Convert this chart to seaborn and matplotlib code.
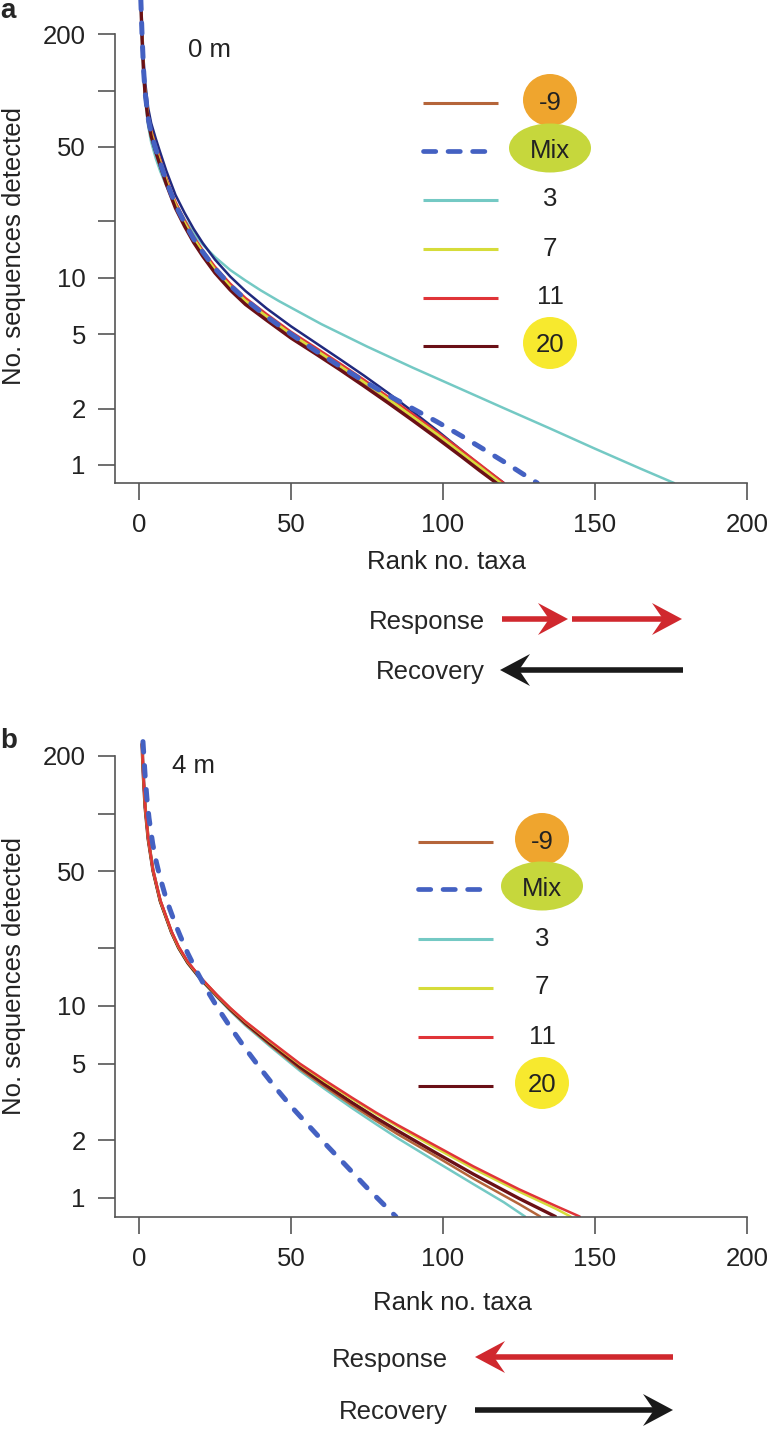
"""
Rank-abundance curves, 0 m and 4 m, recreated with seaborn.
"""

import numpy as np
import pandas as pd
import matplotlib
matplotlib.use('Agg')
import matplotlib.pyplot as plt
import seaborn as sns
from matplotlib.lines import Line2D
from matplotlib.patches import Ellipse, Polygon

sns.set_style('ticks')
plt.rcParams['font.family'] = ['Liberation Sans', 'DejaVu Sans']

W, H = 773, 1429

# ---------------- panel a (0 m) ----------------
a_grid = [0.5, 1, 1.5, 2, 3, 4, 5.5, 7, 9, 12, 15, 18, 21, 25, 30, 35, 42, 50,
          58, 66, 74, 82, 90, 98, 106, 112]
a_20 = [330, 190, 125, 95, 69, 57, 47, 39.5, 31.5, 23.5, 18.8, 15.4, 13.0, 10.6, 8.6, 7.2,
        5.92, 4.76, 3.93, 3.23, 2.635, 2.14, 1.728, 1.388, 1.109, 0.933, 0.79]
a_20_rank = a_grid + [118]
a_m9 = [337, 194, 128, 97, 70, 58, 48, 40.3, 32.1, 24, 19.2, 15.7, 13.3, 10.8, 8.8, 7.35,
        6.04, 4.86, 4.01, 3.29, 2.69, 2.18, 1.76, 1.42, 1.13, 0.952, 0.80]
a_m9_rank = a_grid + [118.5]
a_7 = [346, 200, 131, 100, 72, 60, 49.4, 41.5, 33.1, 24.7, 19.7, 16.2, 13.65, 11.1, 9.0, 7.55,
       6.22, 5.0, 4.13, 3.39, 2.77, 2.25, 1.81, 1.46, 1.16, 0.98, 0.80]
a_7_rank = a_grid + [119]
a_11 = [356, 205, 135, 103, 74.5, 61.5, 50.8, 42.7, 34, 25.4, 20.3, 16.6, 14.0, 11.45, 9.3, 7.8,
        6.39, 5.14, 4.24, 3.49, 2.85, 2.31, 1.87, 1.50, 1.20, 1.01, 0.80]
a_11_rank = a_grid + [120]
a_navy = [390, 224, 147, 112, 81, 67, 55.5, 46.6, 37.2, 27.7, 22.2, 18.2, 15.3, 12.5, 10.15, 8.5,
          6.85, 5.5, 4.5, 3.68, 3.0, 2.42, 1.93, 1.53, 1.20, 1.0, 0.80]
a_navy_rank = a_grid + [120]
a_mix = [340, 197, 129, 98, 71.5, 59, 48.8, 41, 32.8, 24.5, 19.6, 16.1, 13.7, 11.2, 9.1, 7.65,
         6.2, 5.0, 4.08, 3.37, 2.8, 2.35, 2.0, 1.70, 1.43, 1.25, 1.04, 0.90, 0.80]
a_mix_rank = a_grid + [120, 126, 131]
a_3 = [310, 178, 118, 89, 65, 53, 43.5, 37, 31, 25, 20.5, 17.3, 15.0, 12.9, 11.0, 9.67,
       8.57, 7.51, 5.65, 4.29, 3.31, 2.58, 2.01, 1.57, 1.22, 0.954, 0.80]
a_3_rank = [0.5, 1, 1.5, 2, 3, 4, 5.5, 7, 9, 12, 15, 18, 21, 25, 30, 35,
            40, 46, 60, 75, 90, 105, 120, 135, 150, 165, 176]

# ---------------- panel b (4 m) ----------------
b_grid = [1, 1.4, 2, 3, 4.6, 7, 10.7, 13, 16, 20, 25.6, 30, 35, 43, 53, 61, 70, 78, 85, 97, 110]
b_20 = [230, 160, 108, 74, 50.5, 35, 24.1, 20.1, 16.8, 14.0, 11.3, 9.61, 8.13, 6.40, 4.80,
        3.91, 3.14, 2.61, 2.24, 1.74, 1.33, 0.994, 0.80]
b_20_rank = b_grid + [125, 137]
b_11 = [235, 163, 110, 75, 51, 35.5, 24.4, 20.4, 17.0, 14.2, 11.4, 9.75, 8.29, 6.59, 4.99,
        4.11, 3.33, 2.78, 2.40, 1.89, 1.46, 1.11, 0.91, 0.80]
b_11_rank = b_grid + [125, 137, 145]
b_7 = [233, 162, 109, 74.5, 50.8, 35.2, 24.2, 20.2, 16.9, 14.1, 11.35, 9.7, 8.25, 6.53, 4.94,
       4.05, 3.28, 2.74, 2.36, 1.84, 1.42, 1.08, 0.88, 0.80]
b_7_rank = b_grid + [125, 137, 142]
b_m9 = [229, 159, 107.5, 73.6, 50.2, 34.8, 24.0, 20.0, 16.7, 13.9, 11.2, 9.5, 8.0, 6.27, 4.68,
        3.8, 3.04, 2.52, 2.15, 1.67, 1.26, 0.93, 0.80]
b_m9_rank = b_grid + [125, 132]
b_3 = [228, 158, 107, 73.3, 50, 34.7, 23.9, 19.9, 16.6, 13.8, 11.1, 9.4, 7.9, 6.17, 4.58,
       3.7, 2.94, 2.42, 2.05, 1.57, 1.18, 0.95, 0.80]
b_3_rank = b_grid + [120, 127]
b_mix = [237, 158, 120, 94.5, 69.7, 55.9, 46.7, 38.1, 32.3, 26.5, 23.2, 18.8, 15.1, 12.1,
         9.68, 7.76, 5.99, 4.70, 3.73, 3.0, 2.36, 1.86, 1.48, 1.13, 0.80]
b_mix_rank = [1.3, 2, 2.6, 3.3, 4.5, 5.7, 6.9, 8.5, 10, 12, 13.5, 16, 19, 22.3,
              26, 30, 35, 40, 45, 50, 56, 62, 68, 75, 84.5]

legend_labels = ['-9', 'Mix', '3', '7', '11', '20']
colors = {'-9': '#B5653A', 'Mix': '#4461C2', '3': '#74C9C4', '7': '#D6DC3A',
          '11': '#E03438', '20': '#6A1016', 'navy': '#20297E'}
badge_colors = {'-9': '#EFA52E', 'Mix': '#C6D73C', '20': '#F7E92E'}

y_ticks = [1, 2, 5, 10, 20, 50, 100, 200]
y_ticklabels = ['1', '2', '5', '10', '', '50', '', '200']
x_ticks = [0, 50, 100, 150, 200]


def fxy(x, y):
    """pixel position (from top-left) -> figure fraction"""
    return x / W, 1 - y / H


def draw_series(ax, series):
    for name, ranks, vals in series:
        df = pd.DataFrame({'rank': ranks, 'seqs': vals})
        sns.lineplot(data=df, x='rank', y='seqs', ax=ax, color=colors[name],
                     estimator=None, sort=False, legend=False)
        ln = ax.lines[-1]
        ln.set_solid_joinstyle('round')
        if name == 'Mix':
            ln.set_linewidth(3.6)
            ln.set_dashes((2.1, 2.7))
            ln.set_dash_capstyle('round')
        elif name == '20':
            ln.set_linewidth(2.4)
        else:
            ln.set_linewidth(1.8)


def style_axes(ax, ylim):
    ax.set_yscale('log')
    ax.set_xlim(-7.9, 200)
    ax.set_ylim(*ylim)
    ax.set_yticks(y_ticks)
    ax.set_yticklabels(y_ticklabels)
    ax.yaxis.set_minor_locator(matplotlib.ticker.NullLocator())
    ax.set_xticks(x_ticks)
    ax.set_xticklabels([str(t) for t in x_ticks])
    for s in ['top', 'right']:
        ax.spines[s].set_visible(False)
    for s in ['left', 'bottom']:
        ax.spines[s].set_color('#555555')
        ax.spines[s].set_linewidth(1.2)
    ax.spines['left'].set_bounds(ylim[0], 200)
    ax.spines['bottom'].set_bounds(-7.9, 200)
    ax.tick_params(axis='both', length=12.5, width=1.2, color='#555555',
                   labelsize=18.5, labelcolor='#222222')
    ax.tick_params(axis='y', pad=8.5)
    ax.tick_params(axis='x', pad=9)
    ax.set_xlabel('Rank no. taxa', fontsize=18.5, color='#222222')
    ax.set_ylabel('No. sequences detected', fontsize=18.5, color='#222222')
    ax.yaxis.label.set_verticalalignment('center')
    ax.xaxis.label.set_verticalalignment('center')
    ax.patch.set_alpha(0)


def draw_legend(fig, x0, x1, mix_x1, rows, label_x, label_dy):
    for lab, y in zip(legend_labels, rows):
        end = mix_x1 if lab == 'Mix' else x1
        ln = Line2D([x0 / W, end / W], [1 - y / H, 1 - y / H], transform=fig.transFigure,
                    color=colors[lab], lw=3.4 if lab == 'Mix' else 2.2,
                    solid_capstyle='butt')
        if lab == 'Mix':
            ln.set_dashes((2.6, 2.6))
            ln.set_dash_capstyle('round')
        fig.add_artist(ln)
        ty = y + label_dy
        if lab in badge_colors:
            w, h = (82, 49) if lab == 'Mix' else (54, 52)
            fig.add_artist(Ellipse(fxy(label_x, ty), w / W, h / H,
                                   transform=fig.transFigure,
                                   facecolor=badge_colors[lab], edgecolor='none'))
        fig.text(*fxy(label_x, ty), lab, ha='center', va='center_baseline',
                 fontsize=18.5, color='#222222')


def draw_arrow(fig, x0, x1, y, color):
    d = np.sign(x1 - x0)
    L, hw, notch = 30, 16, 19
    fig.add_artist(Line2D([x0 / W, (x1 - d * notch) / W], [1 - y / H, 1 - y / H],
                          transform=fig.transFigure, color=color, lw=4.0,
                          solid_capstyle='butt'))
    pts = [fxy(x1, y), fxy(x1 - d * L, y - hw), fxy(x1 - d * notch, y),
           fxy(x1 - d * L, y + hw)]
    fig.add_artist(Polygon(pts, closed=True, transform=fig.transFigure,
                           facecolor=color, edgecolor='none'))


fig = plt.figure(figsize=(W / 100, H / 100), dpi=100)

# panel a: 115..747 px wide, 0..483 px tall
ax_a = fig.add_axes([115 / W, 1 - 483 / H, 632 / W, 483 / H])
draw_series(ax_a, [('3', a_3_rank, a_3), ('navy', a_navy_rank, a_navy),
                   ('11', a_11_rank, a_11), ('-9', a_m9_rank, a_m9),
                   ('7', a_7_rank, a_7), ('20', a_20_rank, a_20),
                   ('Mix', a_mix_rank, a_mix)])
style_axes(ax_a, (0.80, 305))
ax_a.yaxis.set_label_coords(-0.16, 0.49)
ax_a.xaxis.set_label_coords(0.524, -0.1636)

# panel b: 715..1217 px
ax_b = fig.add_axes([115 / W, 1 - 1217 / H, 632 / W, 502 / H])
draw_series(ax_b, [('3', b_3_rank, b_3), ('-9', b_m9_rank, b_m9),
                   ('20', b_20_rank, b_20), ('7', b_7_rank, b_7),
                   ('11', b_11_rank, b_11), ('Mix', b_mix_rank, b_mix)])
style_axes(ax_b, (0.796, 326))
ax_b.yaxis.set_label_coords(-0.16, 0.48)
ax_b.xaxis.set_label_coords(0.534, -0.171)

# legends
draw_legend(fig, 423, 498, 489, [103, 151, 200, 249, 298, 346], 550, -3)
draw_legend(fig, 418, 493, 484, [842, 889, 939, 988, 1037, 1086], 542, -3)

# panel letters and depth labels
fig.text(*fxy(0, 18), 'a', fontsize=20, fontweight='bold', ha='left', va='baseline')
fig.text(*fxy(0, 748), 'b', fontsize=20, fontweight='bold', ha='left', va='baseline')
fig.text(*fxy(188, 57), '0 m', fontsize=18.5, ha='left', va='baseline', color='#222222')
fig.text(*fxy(172, 773), '4 m', fontsize=18.5, ha='left', va='baseline', color='#222222')

# response / recovery arrows
red, black = '#D0282E', '#1A1A1A'
fig.text(*fxy(485, 619), 'Response', fontsize=18.5, ha='right', va='center_baseline')
fig.text(*fxy(485, 670), 'Recovery', fontsize=18.5, ha='right', va='center_baseline')
draw_arrow(fig, 502, 568, 619, red)
draw_arrow(fig, 572, 682, 619, red)
draw_arrow(fig, 683, 500, 670, black)

fig.text(*fxy(448, 1358), 'Response', fontsize=18.5, ha='right', va='center_baseline')
fig.text(*fxy(448, 1410), 'Recovery', fontsize=18.5, ha='right', va='center_baseline')
draw_arrow(fig, 673, 475, 1357, red)
draw_arrow(fig, 475, 673, 1410, black)

fig.savefig('out.png', dpi=100, facecolor='white')
